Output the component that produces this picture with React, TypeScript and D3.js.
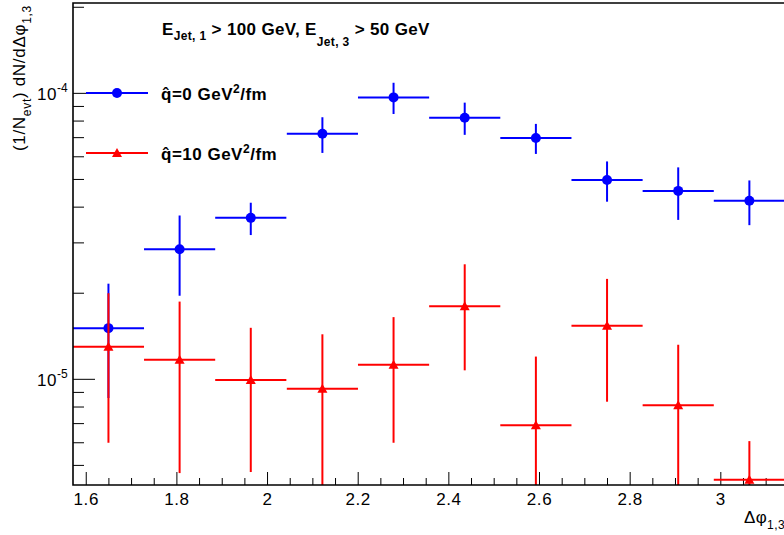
import * as d3 from 'd3';

// bin centres in delta-phi (10 bins between pi/2 and pi)
const binCenters = [1.649, 1.806, 1.963, 2.121, 2.278, 2.435, 2.592, 2.749, 2.906, 3.063];
const binHalfWidth = 0.0785;

// qhat = 0 GeV^2/fm
const blueValues = [1.51e-5, 2.85e-5, 3.67e-5, 7.22e-5, 9.68e-5, 8.22e-5, 6.98e-5, 4.98e-5, 4.56e-5, 4.21e-5];
const blueErrors = [0.65e-5, 0.89e-5, 0.475e-5, 1.03e-5, 1.21e-5, 1.06e-5, 0.84e-5, 0.8e-5, 0.95e-5, 0.75e-5];

// qhat = 10 GeV^2/fm
const redValues = [1.30e-5, 1.17e-5, 0.994e-5, 0.927e-5, 1.125e-5, 1.80e-5, 0.691e-5, 1.54e-5, 0.811e-5, 0.445e-5];
const redErrors = [0.70e-5, 0.70e-5, 0.52e-5, 0.51e-5, 0.525e-5, 0.725e-5, 0.51e-5, 0.705e-5, 0.51e-5, 0.163e-5];

const xTickLabels = [1.6, 1.8, 2, 2.2, 2.4, 2.6, 2.8, 3];
const yDecades = [-4, -5];

const W = 784;
const H = 535;
const left = 73;
const top = 3;
const bottom = 485;
const right = 785;
const font = 'Liberation Sans, Arial, Helvetica, sans-serif';

const x = d3.scaleLinear().domain([Math.PI / 2, Math.PI]).range([left, right]);
const y = d3.scaleLog().domain([4.27e-6, 2.07e-4]).range([bottom, top]);

const triangle = (cx: number, cy: number) =>
  `M${cx - 5},${cy + 4}L${cx + 5},${cy + 4}L${cx},${cy - 5}Z`;

const Series = ({ values, errors, color, marker }: any) => (
  <g>
    {values.map((v: number, i: number) => {
      const cx = x(binCenters[i]);
      const cy = y(v);
      const lo = Math.max(v - errors[i], 1e-7);
      return (
        <g key={i}>
          <line x1={x(binCenters[i] - binHalfWidth)} x2={x(binCenters[i] + binHalfWidth)} y1={cy} y2={cy}
            stroke={color} strokeWidth={2} />
          <line x1={cx} x2={cx} y1={y(v + errors[i])} y2={y(lo)} stroke={color} strokeWidth={2} />
          {marker === 'circle'
            ? <circle cx={cx} cy={cy} r={5} fill={color} />
            : <path d={triangle(cx, cy)} fill={color} />}
        </g>
      );
    })}
  </g>
);

export default function App() {
  const minorX = d3.range(1.6, 3.15, 0.05).map(v => +v.toFixed(2));
  const minorY: number[] = [];
  [1e-6, 1e-5, 1e-4].forEach(dec => {
    for (let k = 2; k <= 9; k++) {
      const v = k * dec;
      if (v >= 4.27e-6 && v <= 2.07e-4) minorY.push(v);
    }
  });

  return (
    <svg width={W} height={H} style={{ position: 'absolute', left: 0, top: 0, background: 'white' }}
      fontFamily={font}>
      <defs>
        <clipPath id="plot">
          <rect x={left} y={top} width={right - left} height={bottom - top} />
        </clipPath>
      </defs>
      <rect x={0} y={0} width={W} height={H} fill="white" />

      {/* x ticks */}
      {minorX.map(v => {
        const major = xTickLabels.some(t => Math.abs(t - v) < 1e-6);
        return <line key={'mx' + v} x1={x(v)} x2={x(v)} y1={bottom} y2={bottom - (major ? 13 : 7)}
          stroke="#000" strokeWidth={1} />;
      })}
      {xTickLabels.map(t => (
        <text key={'xl' + t} x={x(t)} y={505} fontSize={17} letterSpacing={0.6} textAnchor="middle">{t}</text>
      ))}

      {/* y ticks */}
      {minorY.map(v => (
        <line key={'my' + v} x1={left} x2={left + 11} y1={y(v)} y2={y(v)} stroke="#000" strokeWidth={1} />
      ))}
      {yDecades.map(d => (
        <g key={'yd' + d}>
          <line x1={left} x2={left + 22} y1={y(Math.pow(10, d))} y2={y(Math.pow(10, d))} stroke="#000" strokeWidth={1} />
          <text x={57} y={y(Math.pow(10, d)) + 7} fontSize={17} letterSpacing={0.6} textAnchor="end">10</text>
          <text x={57} y={y(Math.pow(10, d)) - 1} fontSize={12}>{`-${-d}`}</text>
        </g>
      ))}

      {/* data */}
      <g clipPath="url(#plot)">
        <Series values={blueValues} errors={blueErrors} color="#0000ff" marker="circle" />
        <Series values={redValues} errors={redErrors} color="#ff0000" marker="triangle" />
      </g>

      {/* frame */}
      <path d={`M${right},${top}H${left}V${bottom}H${right}`} fill="none" stroke="#000" strokeWidth={1.6} />

      {/* annotation */}
      <text x={162} y={35} fontSize={17} fontWeight="bold" letterSpacing={0.35}>
        E<tspan fontSize={12} dy={5}>Jet, 1</tspan>
        <tspan fontSize={17} dy={-5}>{' > 100 GeV, E'}</tspan>
        <tspan fontSize={12} dy={11}>Jet, 3</tspan>
        <tspan fontSize={17} dy={-11}>{' > 50 GeV'}</tspan>
      </text>

      {/* legend */}
      <line x1={86} x2={148} y1={93} y2={93} stroke="#0000ff" strokeWidth={2} />
      <circle cx={117} cy={93} r={5} fill="#0000ff" />
      <text x={161} y={100} fontSize={17} fontWeight="bold" letterSpacing={0.5}>
        {'q\u0302=0 GeV'}<tspan fontSize={12} dy={-7}>2</tspan><tspan fontSize={17} dy={7}>/fm</tspan>
      </text>
      <line x1={86} x2={148} y1={153} y2={153} stroke="#ff0000" strokeWidth={2} />
      <path d={triangle(117, 153)} fill="#ff0000" />
      <text x={161} y={160} fontSize={17} fontWeight="bold" letterSpacing={0.5}>
        {'q\u0302=10 GeV'}<tspan fontSize={12} dy={-7}>2</tspan><tspan fontSize={17} dy={7}>/fm</tspan>
      </text>

      {/* axis titles */}
      <text transform="translate(25,5) rotate(-90)" fontSize={17} letterSpacing={0.7} textAnchor="end">
        (1/N<tspan fontSize={12} dy={6}>evt</tspan><tspan fontSize={17} dy={-6}>) dN/dΔφ</tspan>
        <tspan fontSize={12} dy={6}>1,3</tspan>
      </text>
      <text x={785} y={523} fontSize={17} letterSpacing={0.4} textAnchor="end">
        Δφ<tspan fontSize={12} dy={6}>1,3</tspan>
      </text>
    </svg>
  );
}
